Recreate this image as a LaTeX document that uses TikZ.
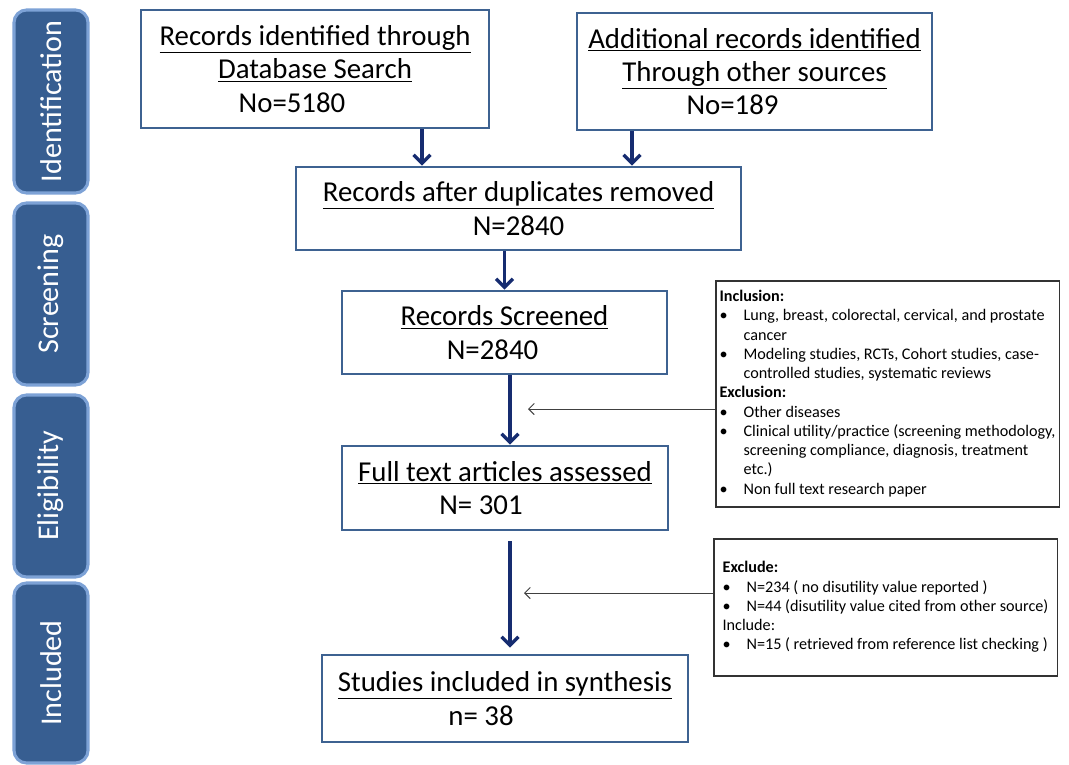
\documentclass[tikz,border=0pt]{standalone}
\usepackage{fontspec}
\setmainfont{Carlito}
\usetikzlibrary{arrows.meta}
\definecolor{my_navy}{RGB}{22, 44, 112}
\definecolor{my_border}{RGB}{62, 98, 145}
\definecolor{my_stage}{RGB}{55, 94, 145}
\definecolor{my_stageline}{RGB}{125, 162, 214}
\tikzset {
  stage/.style = {draw=my_stageline, line width=2.2pt, fill=my_stage, rounded corners=9pt, rectangle, minimum height=1.85cm, text=white, font=\fontsize{21.4}{23}\selectfont, rotate=90},
  box/.style = {draw=my_border, line width=2pt, fill=white, rectangle, align=center, font=\fontsize{20.5}{23.7}\selectfont},
  note/.style = {draw=black!80, line width=0.8pt, fill=white, rectangle, inner xsep=2pt, font=\fontsize{11.5}{13.7}\selectfont},
  line/.style = {-{Straight Barb[length=6pt, width=12pt]}, line width=2.4pt, color=my_navy},
  pointer/.style = {-{Straight Barb[length=4pt, width=8pt]}, line width=0.7pt, color=black!75}
}

\begin{document}
\begin{tikzpicture}[x=0.025cm, y=-0.025cm]
    \useasboundingbox (0,0) rectangle (1069,764);

    % stages on the left
    \node[stage, minimum width=4.575cm] (ident) at (51,101.5) {Identification};
    \node[stage, minimum width=4.55cm] (screen) at (51,294) {Screening};
    \node[stage, minimum width=4.55cm] (elig) at (51,486) {Eligibility};
    \node[stage, minimum width=4.5cm] (incl) at (51,673) {Included};

    % flow boxes
    \node[box, minimum width=8.7cm, minimum height=2.95cm] (db) at (315,69) {\underline{Records identified through}\\\underline{Database Search}\hspace*{0.6cm}\\No=5180\hspace*{1.15cm}};
    \node[box, minimum width=8.875cm, minimum height=2.925cm] (other) at (754.5,71.5) {\underline{Additional records identified}\\\underline{Through other sources}\hspace*{0.8cm}\\No=189\hspace*{1.1cm}};
    \node[box, minimum width=11.125cm, minimum height=2.075cm] (dup) at (518.5,208.5) {\underline{Records after duplicates removed}\\N=2840};
    \node[box, minimum width=8.125cm, minimum height=2.075cm] (scr) at (504.5,332.5) {\underline{Records Screened}\\N=2840\hspace*{0.6cm}};
    \node[box, minimum width=8.15cm, minimum height=2.1cm] (full) at (505,488) {\underline{Full text articles assessed}\\N= 301\hspace*{1.2cm}};
    \node[box, minimum width=9.15cm, minimum height=2.175cm] (syn) at (505,698.5) {\underline{Studies included in synthesis}\\n= 38\hspace*{1.2cm}};

    % criteria boxes
    \node[note, minimum width=8.575cm, minimum height=5.65cm] (crit) at (887.5,394) {%
      \begin{tabular}{@{}p{0.6cm}@{}l@{}}
        \multicolumn{2}{@{}l@{}}{\textbf{Inclusion:}}\\
        \textbullet & Lung, breast, colorectal, cervical, and prostate\\
        & cancer\\
        \textbullet & Modeling studies, RCTs, Cohort studies, case-\\
        & controlled studies, systematic reviews\\
        \multicolumn{2}{@{}l@{}}{\textbf{Exclusion:}}\\
        \textbullet & Other diseases\\
        \textbullet & Clinical utility/practice (screening methodology,\\
        & screening compliance,  diagnosis, treatment\\
        & etc.)\\
        \textbullet & Non full text research paper
      \end{tabular}};
    \node[note, minimum width=8.575cm, minimum height=3.425cm] (disu) at (885.5,607.5) {%
      \begin{tabular}{@{}p{0.6cm}@{}l@{}}
        \multicolumn{2}{@{}l@{}}{\textbf{Exclude:}}\\
        \textbullet & N=234 ( no disutility value reported )\\
        \textbullet & N=44  (disutility value cited from other source)\\
        \multicolumn{2}{@{}l@{}}{Include:}\\
        \textbullet & N=15 ( retrieved from reference list checking )
      \end{tabular}};

    \coordinate (x1) at (422,0);
    \coordinate (x2) at (632,0);
    \coordinate (x3) at (510,0);
    \coordinate (tip1) at (528,409);
    \coordinate (tip2) at (524,593);

    \draw[line] (db.south -| x1) -- (dup.north -| x1);
    \draw[line] (other.south -| x2) -- (dup.north -| x2);
    \draw[line] (dup.south -| scr.north) -- (scr.north);
    \draw[line] (scr.south -| x3) -- (full.north -| x3);
    \draw[line, shorten <=0.25cm, shorten >=0.15cm] (full.south -| x3) -- (syn.north -| x3);
    \draw[pointer] (crit.west |- tip1) -- (tip1);
    \draw[pointer] (disu.west |- tip2) -- (tip2);

\end{tikzpicture}
\end{document}
